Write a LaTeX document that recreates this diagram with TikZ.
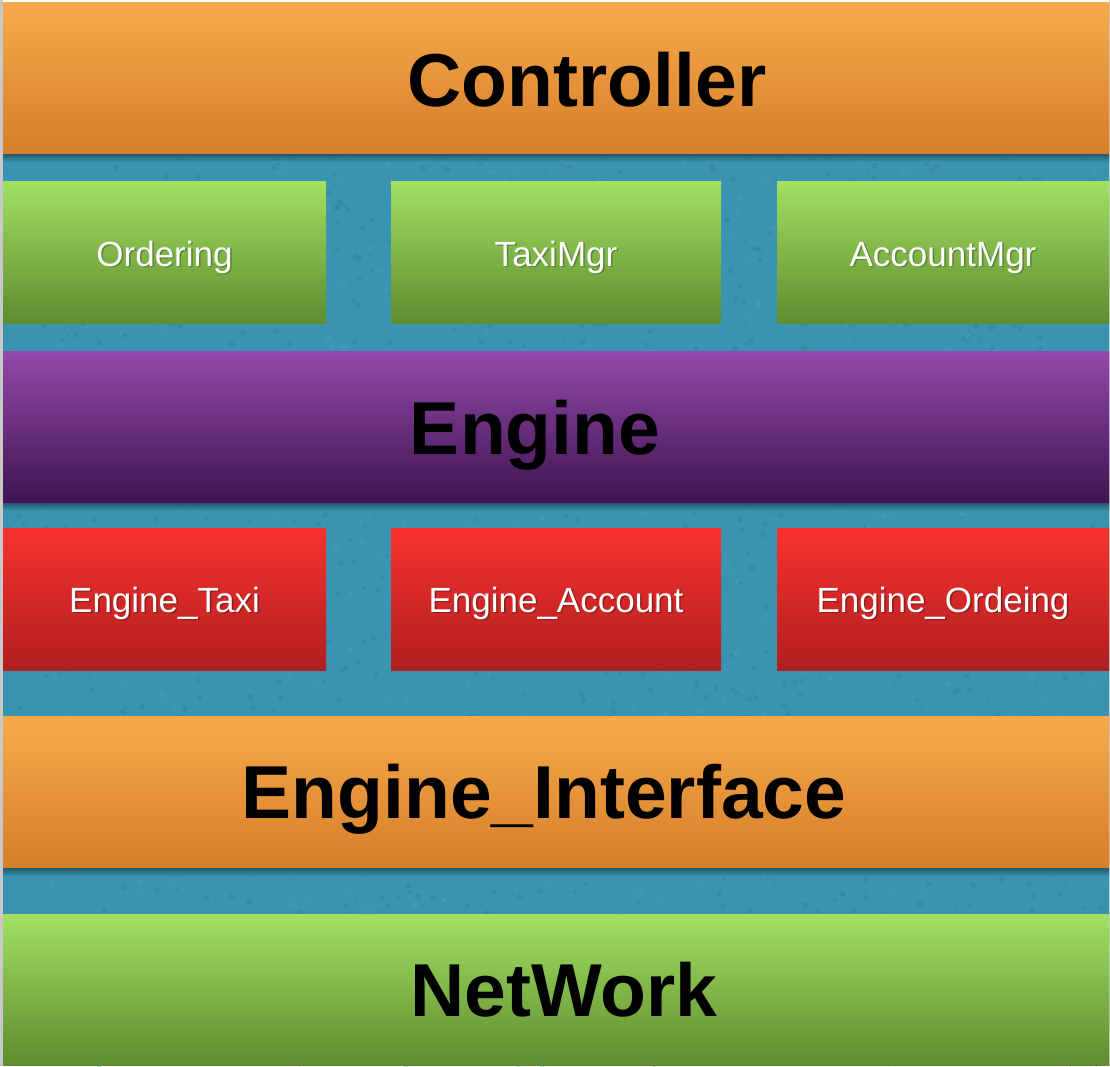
\documentclass[tikz,border=0pt]{standalone}
\usepackage{fontspec}
\setmainfont{Liberation Sans}
\definecolor{tealbg}{HTML}{3A93B0}
\definecolor{tealdark}{HTML}{2C7C98}
\definecolor{teallight}{HTML}{4AA3BE}
\definecolor{orTop}{HTML}{F9A94A}
\definecolor{orBot}{HTML}{D47F2A}
\definecolor{grTop}{HTML}{A2E062}
\definecolor{grBot}{HTML}{5F8C2F}
\definecolor{puTop}{HTML}{9349AA}
\definecolor{puBot}{HTML}{3F1450}
\definecolor{reTop}{HTML}{F8322E}
\definecolor{reBot}{HTML}{B01E20}
\definecolor{grShadow}{HTML}{5E8236}
\definecolor{reShadow}{HTML}{8A1C1C}
\definecolor{edgegray}{HTML}{C8C8C8}
\newcommand\shtxt[2]{\makebox[0pt][l]{\kern1.5pt\raisebox{-1.5pt}{\textcolor{#1}{#2}}}#2}
\tikzset{
  panel/.style={draw=none, inner sep=0pt, outer sep=0pt, anchor=north west},
  barbox/.style={panel, minimum width=1106pt, minimum height=151pt},
  orangefill/.style={top color=orTop, bottom color=orBot},
  greenfill/.style={top color=grTop, bottom color=grBot},
  purplefill/.style={top color=puTop, bottom color=puBot},
  redfill/.style={top color=reTop, bottom color=reBot},
  softshadow/.style={top color=tealbg!45!black, bottom color=tealbg, opacity=0.8},
  bigtxt/.style={anchor=base, inner sep=0pt, text=black, font=\fontsize{75}{80}\selectfont\bfseries},
  smalltxt/.style={anchor=base, inner sep=0pt, text=white, font=\fontsize{35}{40}\selectfont},
}
\begin{document}
\begin{tikzpicture}[x=1pt, y=-1pt]
\useasboundingbox (0,0) rectangle (1110,1066);
\fill[white] (0,0) rectangle (1110,1066);
\fill[tealbg] (3,2) rectangle (1109,1066);
% mottled texture of the background
\begin{scope}
  \clip (3,2) rectangle (1109,1066);
  \pgfmathsetseed{7}
  \foreach \i in {1,...,2200} {
    \pgfmathsetmacro{\px}{3+1106*rnd}
    \pgfmathsetmacro{\py}{2+1064*rnd}
    \pgfmathsetmacro{\pr}{1.2+2.2*rnd}
    \fill[tealdark, opacity=0.35] (\px,\py) circle[radius=\pr];
  }
  \foreach \i in {1,...,1200} {
    \pgfmathsetmacro{\px}{3+1106*rnd}
    \pgfmathsetmacro{\py}{2+1064*rnd}
    \pgfmathsetmacro{\pr}{1+1.8*rnd}
    \fill[teallight, opacity=0.35] (\px,\py) circle[radius=\pr];
  }
\end{scope}
\fill[edgegray] (0,0) rectangle (3,1066);
\fill[edgegray] (1109,0) rectangle (1110,1066);

% soft shadows below the bars
\shade[softshadow] (3,153) rectangle (1109,162);
\shade[softshadow] (3,502) rectangle (1109,511);
\shade[softshadow] (3,867) rectangle (1109,876);

% bars
\node[barbox, orangefill] (ctrl) at (3,2) {};
\node[barbox, purplefill] (eng) at (3,351) {};
\node[barbox, orangefill] (eif) at (3,716) {};
\node[barbox, greenfill] (net) at (3,914) {};

% green boxes
\node[panel, greenfill, minimum width=323pt, minimum height=142pt] (ord) at (3,181) {};
\node[panel, greenfill, minimum width=330pt, minimum height=142pt] (taxi) at (391,181) {};
\node[panel, greenfill, minimum width=332pt, minimum height=142pt] (acc) at (777,181) {};

% red boxes
\node[panel, redfill, minimum width=323pt, minimum height=142pt] (etaxi) at (3,528) {};
\node[panel, redfill, minimum width=330pt, minimum height=142pt] (eacc) at (391,528) {};
\node[panel, redfill, minimum width=332pt, minimum height=142pt] (eord) at (777,528) {};

% big labels
\node[bigtxt] (ctrlT) at (587,106) {Controller};
\node[bigtxt] (engT) at (535,454) {Engine};
\node[bigtxt] (eifT) at (544,818) {Engine\_Interface};
\node[bigtxt] (netT) at (564,1016) {NetWork};

% small labels
\node[smalltxt] (ordT) at (ord.center |- 0,266) {\shtxt{grShadow}{Ordering}};
\node[smalltxt] (taxiT) at (taxi.center |- 0,266) {\shtxt{grShadow}{TaxiMgr}};
\node[smalltxt] (accT) at (acc.center |- 0,266) {\shtxt{grShadow}{AccountMgr}};
\node[smalltxt] (etaxiT) at (etaxi.center |- 0,612) {\shtxt{reShadow}{Engine\_Taxi}};
\node[smalltxt] (eaccT) at (eacc.center |- 0,612) {\shtxt{reShadow}{Engine\_Account}};
\node[smalltxt] (eordT) at (eord.center |- 0,612) {\shtxt{reShadow}{Engine\_Ordeing}};
\end{tikzpicture}
\end{document}
